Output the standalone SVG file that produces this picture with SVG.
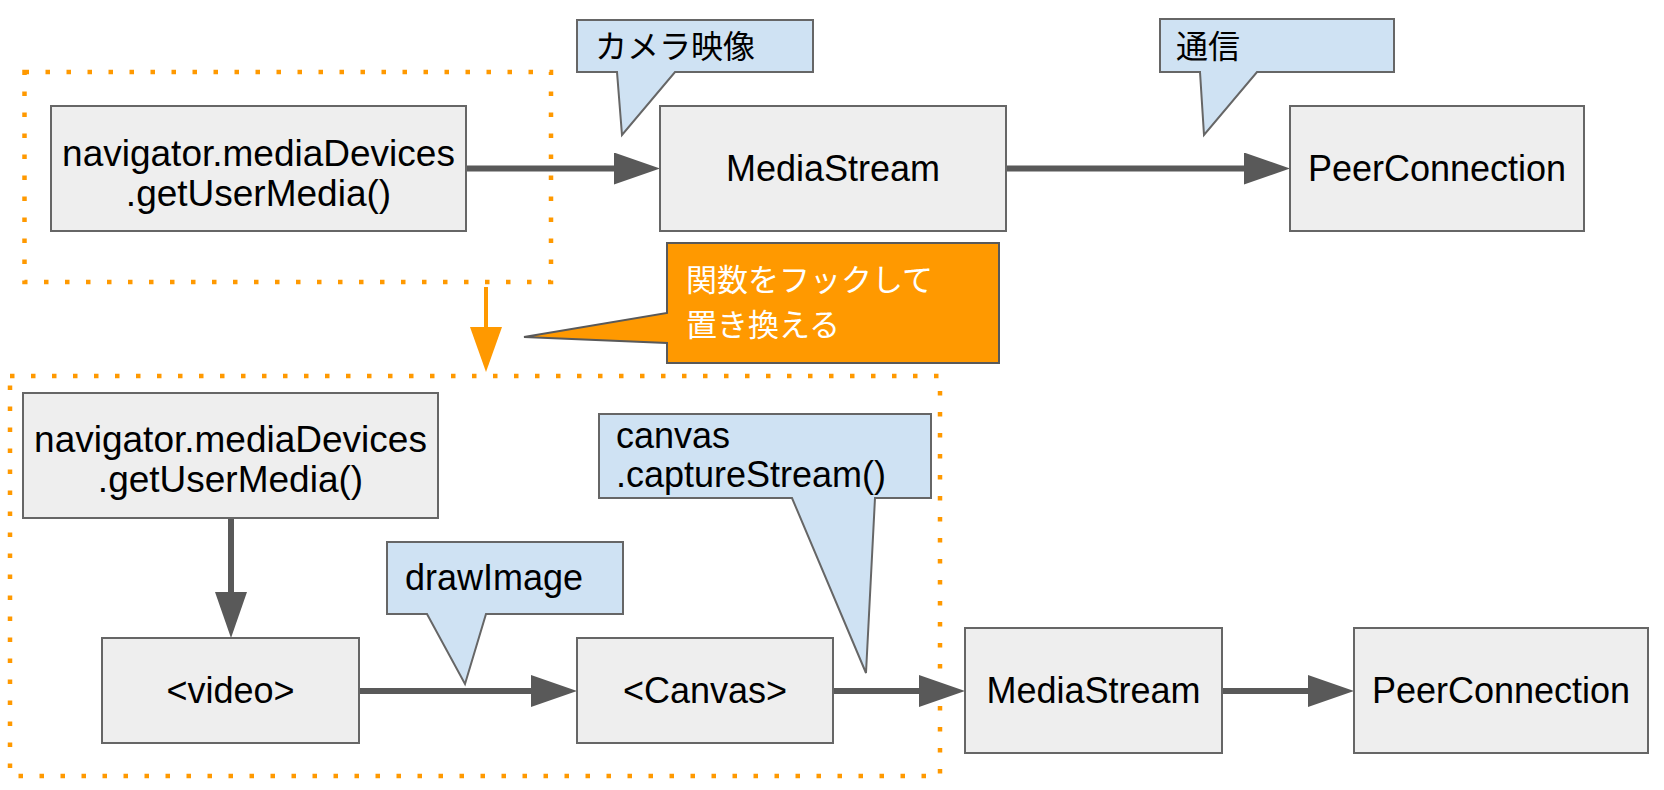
<svg xmlns="http://www.w3.org/2000/svg" width="1664" height="790" viewBox="0 0 1664 790">
<defs>
<style>
.box{fill:#eeeeee;stroke:#666666;stroke-width:2}
.call{fill:#cfe2f3;stroke:#666666;stroke-width:2}
.hook{fill:#ff9900;stroke:#595959;stroke-width:2}
.dot{fill:none;stroke:#ff9900;stroke-width:4.5;stroke-dasharray:4.5 16.5}
.lbl{font-family:"Liberation Sans",Arial,sans-serif;font-size:36px;fill:#000}
.wide{font-size:37px}
.mid{text-anchor:middle}
.jp{font-family:"Noto Sans CJK JP","Liberation Sans",sans-serif;font-size:32px;fill:#000}
.hooktxt{font-size:31px;fill:#ffffff}
.line{stroke:#595959;stroke-width:6;fill:none}
.oline{stroke:#ff9900;stroke-width:4;fill:none}
</style>
<marker id="ah" markerUnits="userSpaceOnUse" markerWidth="46" markerHeight="32" refX="6" refY="16" orient="auto">
<path d="M0,0 L46,16 L0,32 z" fill="#595959"/>
</marker>
<marker id="oah" markerUnits="userSpaceOnUse" markerWidth="45" markerHeight="32" refX="6" refY="16" orient="auto">
<path d="M0,0 L45,16 L0,32 z" fill="#ff9900"/>
</marker>
</defs>
<rect width="1664" height="790" fill="#ffffff"/>

<g id="groups">
<rect class="dot" x="24.5" y="72" width="526.5" height="210"/>
<rect class="dot" x="10" y="376" width="930" height="400"/>
</g>

<g id="connectors">
<line class="line" x1="466" y1="168.5" x2="620" y2="168.5" marker-end="url(#ah)"/>
<line class="line" x1="1006" y1="168.5" x2="1250" y2="168.5" marker-end="url(#ah)"/>
<line class="line" x1="231" y1="518" x2="231" y2="598" marker-end="url(#ah)"/>
<line class="line" x1="359" y1="691" x2="537" y2="691" marker-end="url(#ah)"/>
<line class="line" x1="833" y1="691" x2="925" y2="691" marker-end="url(#ah)"/>
<line class="line" x1="1222" y1="691" x2="1314" y2="691" marker-end="url(#ah)"/>
<line class="oline" x1="486" y1="287" x2="486" y2="333" marker-end="url(#oah)"/>
</g>

<g id="node-gum-top">
<rect class="box" x="51" y="106" width="415" height="125"/>
<text class="lbl wide mid"><tspan x="258.5" y="166">navigator.mediaDevices</tspan><tspan x="258.5" y="206">.getUserMedia()</tspan></text>
</g>
<g id="node-ms-top">
<rect class="box" x="660" y="106" width="346" height="125"/>
<text class="lbl mid" x="833" y="181">MediaStream</text>
</g>
<g id="node-pc-top">
<rect class="box" x="1290" y="106" width="294" height="125"/>
<text class="lbl mid" x="1437" y="181">PeerConnection</text>
</g>

<g id="callout-camera">
<polygon class="call" points="577,20 813,20 813,72 675,72 622,135 617,72 577,72"/>
<text class="jp" x="595" y="58">カメラ映像</text>
</g>
<g id="callout-comm">
<polygon class="call" points="1160,19 1394,19 1394,72 1257,72 1204,135 1200,72 1160,72"/>
<text class="jp" x="1176" y="58">通信</text>
</g>
<g id="callout-hook">
<polygon class="hook" points="667,243 999,243 999,363 667,363 667,343 524,337 667,313"/>
<text class="jp hooktxt"><tspan x="686" y="291">関数をフックして</tspan><tspan x="686" y="336">置き換える</tspan></text>
</g>

<g id="node-gum-bottom">
<rect class="box" x="23" y="393" width="415" height="125"/>
<text class="lbl wide mid"><tspan x="230.5" y="452">navigator.mediaDevices</tspan><tspan x="230.5" y="492">.getUserMedia()</tspan></text>
</g>
<g id="node-video">
<rect class="box" x="102" y="638" width="257" height="105"/>
<text class="lbl mid" x="230.5" y="703">&lt;video&gt;</text>
</g>
<g id="node-canvas">
<rect class="box" x="577" y="638" width="256" height="105"/>
<text class="lbl mid" x="705" y="703">&lt;Canvas&gt;</text>
</g>
<g id="node-ms-bottom">
<rect class="box" x="965" y="628" width="257" height="125"/>
<text class="lbl mid" x="1093.5" y="703">MediaStream</text>
</g>
<g id="node-pc-bottom">
<rect class="box" x="1354" y="628" width="294" height="125"/>
<text class="lbl mid" x="1501" y="703">PeerConnection</text>
</g>

<g id="callout-drawimage">
<polygon class="call" points="387,542 623,542 623,614 486,614 465,684 427,614 387,614"/>
<text class="lbl" x="405" y="590">drawImage</text>
</g>
<g id="callout-capture">
<polygon class="call" points="599,414 931,414 931,498 875,498 866,673 792,498 599,498"/>
<text class="lbl"><tspan x="616" y="448">canvas</tspan><tspan x="616" y="487">.captureStream()</tspan></text>
</g>
</svg>
